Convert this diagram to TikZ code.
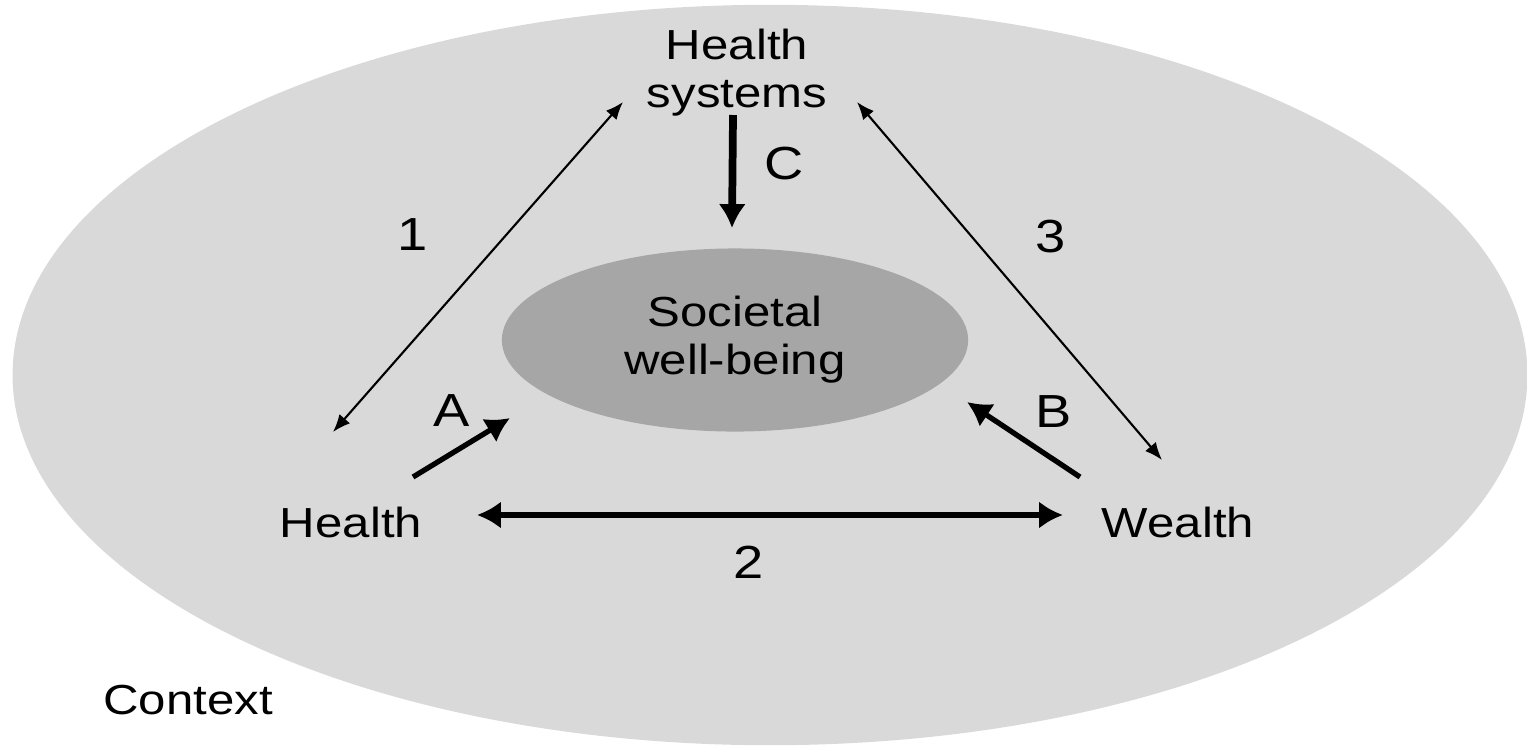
\documentclass[tikz,border=0pt]{standalone}
\usepackage{fontspec}
\setmainfont{Liberation Sans}
\usepackage{graphicx}
\usetikzlibrary{arrows.meta, shapes.geometric}
\definecolor{ctxgrey}{HTML}{D9D9D9}
\definecolor{swbgrey}{HTML}{A6A6A6}
\newcommand{\wide}[1]{\scalebox{1.17}[1]{#1}}

\begin{document}
\begin{tikzpicture}[x=0.01cm, y=-0.01cm,
   word/.style={font=\fontsize{11.95}{13.7}\selectfont, align=center, inner sep=0pt},
   numlabel/.style={font=\fontsize{13.2}{15}\selectfont, inner sep=0pt},
   context/.style={ellipse, fill=ctxgrey, minimum width=15.14cm, minimum height=7.4cm, inner sep=0pt},
   wellbeing/.style={ellipse, fill=swbgrey, minimum width=4.66cm, minimum height=1.83cm, word},
   thinarrow/.style={line width=0.6pt, >={Latex[length=5pt,width=4pt]}, <->},
   boldarrow/.style={line width=1.5pt, >={Latex[length=6.8pt,width=7.8pt]}}]
   \useasboundingbox (0,0) rectangle (1527,748);

   \node[context] (ctx) at (770,375) {};
   \node[wellbeing] (swb) at (735,340) {\wide{Societal}\\\wide{well-being}};
   \node[word] (hs) at (737,73) {\wide{Health}\\\wide{systems}};
   \node[word] (health) at (351,522) {\wide{Health}};
   \node[word] (wealth) at (1178,522) {\wide{Wealth}};
   \node[word] (ctxlabel) at (188,700) {\wide{Context}};

   % arrow ends
   \coordinate (h1) at (333,432);
   \coordinate (hs1) at (623,102);
   \coordinate (hs3) at (857,102);
   \coordinate (w3) at (1162,460);
   \coordinate (h2) at (477,515);
   \coordinate (w2) at (1063,515);
   \coordinate (hsC) at (733,115);
   \coordinate (swbC) at (732,228);
   \coordinate (hA) at (413,477);
   \coordinate (swbA) at (510,418);
   \coordinate (wB) at (1080,477);
   \coordinate (swbB) at (967,402);

   \path[thinarrow]
   (h1) edge node[numlabel, xshift=-0.65cm, yshift=0.32cm] {\wide{1}} (hs1)
   (hs3) edge node[numlabel, xshift=0.41cm, yshift=0.44cm] {\wide{3}} (w3);
   \path[boldarrow]
   (h2) edge[<->] node[numlabel, xshift=-0.21cm, yshift=-0.47cm] {\wide{2}} (w2)
   (hsC) edge[->, line width=2.2pt] node[numlabel, xshift=0.52cm, yshift=0.08cm] {\wide{C}} (swbC)
   (hA) edge[->] node[numlabel, xshift=-0.10cm, yshift=0.37cm] {\wide{A}} (swbA)
   (wB) edge[->] node[numlabel, xshift=0.30cm, yshift=0.28cm] {\wide{B}} (swbB);
\end{tikzpicture}
\end{document}
